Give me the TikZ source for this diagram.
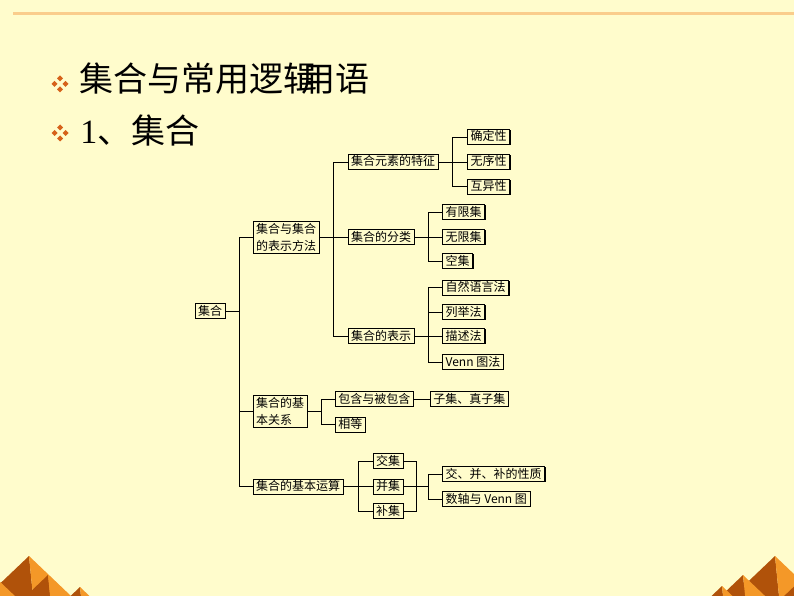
\documentclass[tikz,border=0pt]{standalone}
\usepackage{fontspec}
\newfontfamily\cjk{Noto Sans CJK SC}
\newfontfamily\serif{Liberation Serif}
\usetikzlibrary{positioning,shadows}
\definecolor{bg}{RGB}{255,252,204}
\definecolor{topline}{RGB}{250,205,140}
\definecolor{bulletc}{RGB}{214,98,26}
\definecolor{pdark}{RGB}{176,82,10}
\definecolor{plight}{RGB}{244,152,40}

\begin{document}
\begin{tikzpicture}[x=1pt,y=-1pt,line width=0.7pt,
    box/.style={draw,line width=0.6pt,fill=bg,font=\cjk\fontsize{12}{14}\selectfont,
        inner xsep=3pt,inner ysep=2pt,text height=9.5pt,text depth=1.5pt,
        drop shadow={shadow xshift=0.9pt,shadow yshift=-0.9pt,opacity=1,fill=black}},
    twobox/.style={draw,line width=0.6pt,fill=bg,font=\cjk\fontsize{12}{17}\selectfont,
        inner xsep=3pt,inner ysep=2pt,align=left,
        drop shadow={shadow xshift=0.9pt,shadow yshift=-0.9pt,opacity=1,fill=black}}]

    % Background and frame
    \fill[bg] (0,0) rectangle (794,596);
    \useasboundingbox (0,0) rectangle (794,596);
    \draw[topline,line width=2.5pt] (13,13.3) -- (794,13.3);

    % Pyramids in the corners
    \begin{scope}
        \clip (0,0) rectangle (794,596);
        \foreach \px/\py in {29/556,-4/578,48/575,80/587,775/556,803/578,743/575,722/586} {
            \fill[pdark] (\px,\py) -- ({\px-(596-\py)*1.05},596) -- ({\px+(596-\py)*0.1},596) -- cycle;
            \fill[plight] (\px,\py) -- ({\px+(596-\py)*0.1},596) -- ({\px+(596-\py)*1.05},596) -- cycle;
        }
    \end{scope}

    % Bullets and headings
    \foreach \by in {84,133} {
        \foreach \dx/\dy in {0/-5.5,-5.5/0,5.5/0,0/5.5}
            \fill[bulletc] (60+\dx,\by+\dy) +(0,-3) -- +(3,0) -- +(0,3) -- +(-3,0) -- cycle;
    }
    \node[anchor=base west,inner sep=0pt,font=\cjk\fontsize{34}{34}\selectfont] (head) at (79,92)
        {集合与常用逻辑\kern-16pt 用语};
    \node[anchor=base west,inner sep=0pt,font=\cjk\fontsize{34}{34}\selectfont] (sub) at (80,144)
        {{\serif 1}、集合};

    % Trunk positions
    \coordinate (t1) at (239.3,0);
    \coordinate (t2) at (333.3,0);
    \coordinate (t3) at (452.7,0);
    \coordinate (t4) at (428.3,0);
    \coordinate (t5) at (321.7,0);
    \coordinate (t6) at (358.3,0);
    \coordinate (t7) at (416,0);

    % Define the boxes as nodes
    \node[box] (root) at (210,311) {集合};
    \node[twobox] (fa) at (286,237) {集合与集合\\的表示方法};
    \node[twobox] (gx) at (280,411) {集合的基\\本关系};
    \node[box,anchor=west] (ys) at (252.7,486.5) {集合的基本运算};

    \node[box,anchor=west] (tz) at (347.7,162) {集合元素的特征};
    \node[box,anchor=west] (fl) at (347.7,237) {集合的分类};
    \node[box,anchor=west] (bs) at (347.7,336) {集合的表示};

    \node[box,anchor=west] (qd) at (467.3,137) {确定性};
    \node[box,anchor=west] (wx) at (467.3,162) {无序性};
    \node[box,anchor=west] (hy) at (467.3,186.5) {互异性};

    \node[box,anchor=west] (yx) at (442.3,212) {有限集};
    \node[box,anchor=west] (wj) at (442.3,237) {无限集};
    \node[box,anchor=west] (kj) at (442.3,261) {空集};

    \node[box,anchor=west] (zr) at (442.3,287.5) {自然语言法};
    \node[box,anchor=west] (lj) at (442.3,312) {列举法};
    \node[box,anchor=west] (ms) at (442.3,336) {描述法};
    \node[box,anchor=west] (vn) at (442.3,362) {Venn 图法};

    \node[box,anchor=west] (bh) at (335,399) {包含与被包含};
    \node[box] (zj) [right=16.5pt of bh] {子集、真子集};
    \node[box,anchor=west] (xd) at (335,424.5) {相等};

    \node[box,anchor=west] (jj) at (372.7,461) {交集};
    \node[box,anchor=west] (bj) at (372.7,486.5) {并集};
    \node[box,anchor=west] (bu) at (372.7,511) {补集};

    \node[box,anchor=west] (xz) at (442.3,474) {交、并、补的性质};
    \node[box,anchor=west] (sz) at (442.3,499) {数轴与 Venn 图};

    % Connect the boxes
    \draw (root.east) -- (root.east -| t1);
    \draw (fa.west) -- (fa.west -| t1) |- (ys.west);
    \draw (gx.west) -- (gx.west -| t1);

    \draw (fa.east) -- (fl.west);
    \draw (tz.west) -- (tz.west -| t2) |- (bs.west);

    \draw (tz.east) -- (wx.west);
    \draw (qd.west) -- (qd.west -| t3) |- (hy.west);

    \draw (fl.east) -- (wj.west);
    \draw (yx.west) -- (yx.west -| t4) |- (kj.west);

    \draw (bs.east) -- (ms.west);
    \draw (zr.west) -- (zr.west -| t4) |- (vn.west);
    \draw (lj.west) -- (lj.west -| t4);

    \draw (gx.east) -- (gx.east -| t5);
    \draw (bh.west) -- (bh.west -| t5) |- (xd.west);
    \draw (bh.east) -- (zj.west);

    \draw (ys.east) -- (bj.west);
    \draw (jj.west) -- (jj.west -| t6) |- (bu.west);
    \draw (jj.east) -- (jj.east -| t7) |- (bu.east);
    \draw (bj.east) -- (bj.east -| t4);
    \draw (xz.west) -- (xz.west -| t4) |- (sz.west);

\end{tikzpicture}
\end{document}
